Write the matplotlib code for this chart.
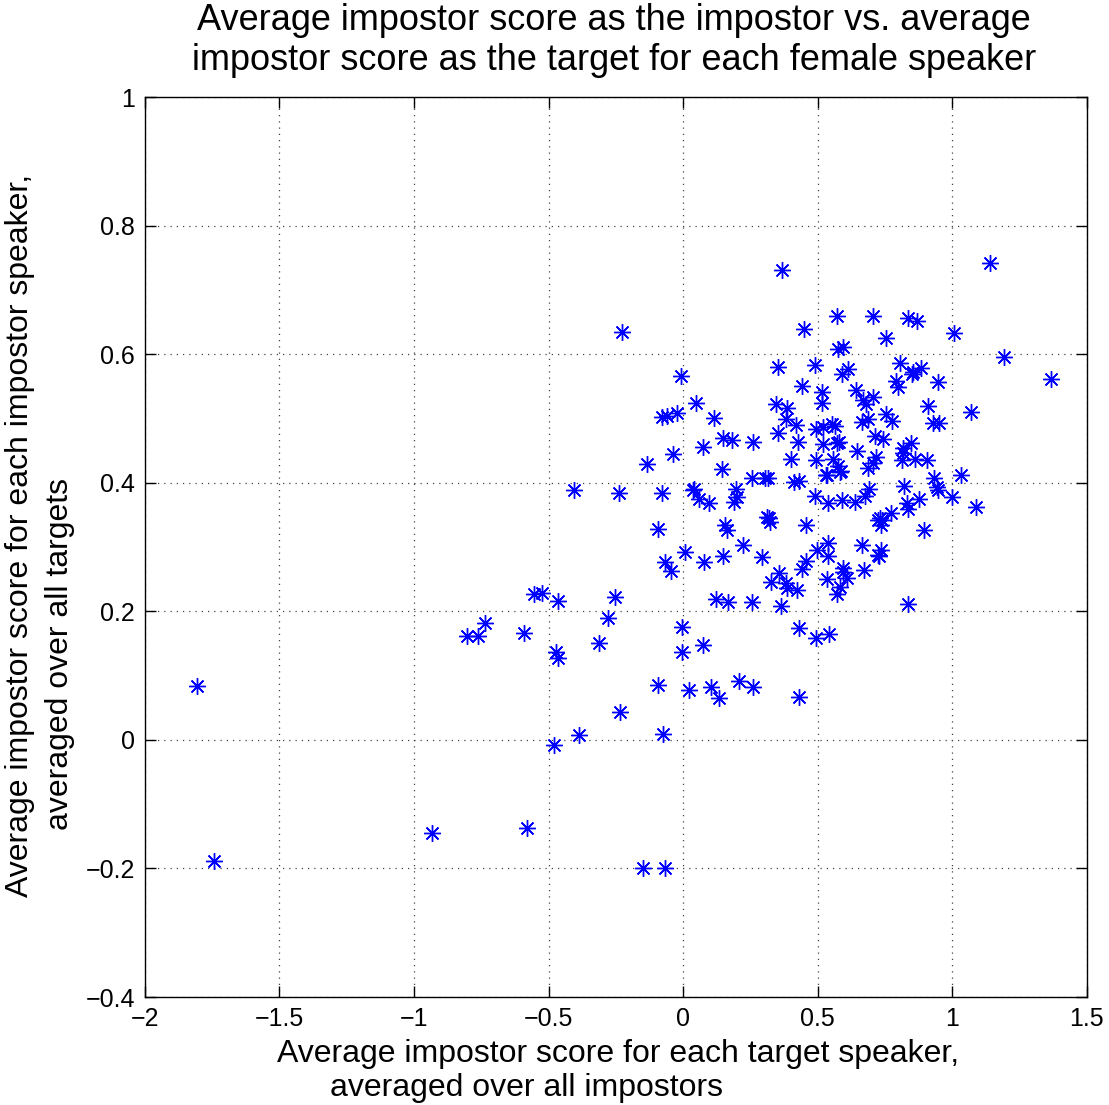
import matplotlib
matplotlib.use("Agg")
import matplotlib.pyplot as plt

plt.rcParams['font.family'] = ['Liberation Sans', 'DejaVu Sans']

title = "Average impostor score as the impostor vs. average\nimpostor score as the target for each female speaker"
xlabel_lines = ["Average impostor score for each target speaker,", "averaged over all impostors"]
ylabel_lines = ["Average impostor score for each impostor speaker,", "averaged over all targets"]

xticks = [-2, -1.5, -1, -0.5, 0, 0.5, 1, 1.5]
yticks = [-0.4, -0.2, 0, 0.2, 0.4, 0.6, 0.8, 1]

x_vals = [
    -1.807, -1.743, -0.933, -0.580, -0.227, -0.149, -0.067,
    -0.007, 0.048, -0.078, -0.059, -0.022, -0.037, -0.134, -0.405, -0.238, -0.078, 0.037,
    -0.093, 0.007, -0.067, -0.045, -0.554, -0.524, -0.465, -0.253,
    -0.736, -0.803, -0.762, -0.591, -0.279, -0.312, -0.472, -0.465, -0.004, -0.004, 0.074,
    -0.093, 0.022, -0.234, -0.387, -0.074, -0.480,
    0.041, 0.059, 0.097, 0.197, 0.201, 0.190, 0.257, 0.305, 0.316, 0.413, 0.431, 0.491,
    0.535, 0.584, 0.539, 0.591, 0.639, 0.677, 0.691, 0.725, 0.312, 0.323, 0.320, 0.156,
    0.164, 0.457, 0.078, 0.149, 0.223, 0.294, 0.498, 0.539, 0.539, 0.665, 0.725, 0.457,
    0.442, 0.357, 0.327, 0.383, 0.387, 0.424, 0.595, 0.595, 0.610, 0.535, 0.584, 0.572,
    0.673, 0.123, 0.167, 0.257, 0.364, 0.431, 0.494, 0.543, 0.104, 0.134, 0.208, 0.260, 0.431,
    0.368, 0.572, 0.706, 0.450, 0.576, 0.595, 0.353, 0.491, 0.591, 0.613, 0.442, 0.517,
    0.517, 0.346, 0.387, 0.383, 0.420, 0.115, 0.643, 0.669, 0.680, 0.706, 0.665, 0.688,
    0.494, 0.520, 0.554, 0.565, 0.714, 0.353, 0.428, 0.520, 0.572, 0.580, 0.149, 0.182,
    0.260, 0.074, 0.647, 0.717, 0.706, 0.401, 0.494, 0.558, 0.576, 0.587, 0.688, 0.145, 0.532,
    1.141, 0.836, 0.870, 1.007, 0.755, 1.193, 1.368, 0.807, 0.851, 0.855, 0.885, 0.792,
    0.799, 0.948, 0.911, 1.071, 0.755, 0.777, 0.929, 0.952, 0.743, 0.848, 0.818, 0.818,
    0.814, 0.862, 0.907, 0.933, 1.033, 0.822, 0.944,
    0.948, 0.833, 0.836, 0.877, 1.000, 1.089, 0.773, 0.732, 0.740, 0.736, 0.896, 0.736,
    0.729, 0.836,
]
y_vals = [
    0.084, -0.188, -0.145, -0.137, 0.635, -0.199, -0.199,
    0.566, 0.524, 0.502, 0.504, 0.509, 0.445, 0.429, 0.389, 0.384, 0.384, 0.389,
    0.328, 0.292, 0.277, 0.263, 0.227, 0.229, 0.216, 0.222,
    0.182, 0.162, 0.162, 0.166, 0.190, 0.151, 0.137, 0.128, 0.176, 0.137, 0.148,
    0.086, 0.078, 0.044, 0.008, 0.009, -0.008,
    0.390, 0.375, 0.369, 0.390, 0.378, 0.370, 0.407, 0.407, 0.407, 0.401, 0.403, 0.380,
    0.412, 0.417, 0.369, 0.373, 0.370, 0.380, 0.390, 0.342, 0.347, 0.339, 0.345, 0.334,
    0.327, 0.334, 0.277, 0.286, 0.303, 0.285, 0.296, 0.306, 0.286, 0.303, 0.288, 0.278,
    0.266, 0.260, 0.246, 0.244, 0.236, 0.233, 0.268, 0.261, 0.252, 0.250, 0.238, 0.227,
    0.264, 0.219, 0.215, 0.215, 0.208, 0.174, 0.159, 0.165, 0.082, 0.065, 0.092, 0.082, 0.067,
    0.731, 0.660, 0.660, 0.639, 0.608, 0.611, 0.580, 0.583, 0.569, 0.577, 0.551, 0.541,
    0.524, 0.523, 0.516, 0.499, 0.490, 0.501, 0.544, 0.529, 0.523, 0.534, 0.495, 0.499,
    0.484, 0.487, 0.492, 0.488, 0.473, 0.478, 0.464, 0.460, 0.462, 0.464, 0.470, 0.467,
    0.464, 0.456, 0.450, 0.440, 0.431, 0.437, 0.436, 0.437, 0.426, 0.418, 0.423, 0.421, 0.412,
    0.742, 0.656, 0.652, 0.633, 0.625, 0.596, 0.562, 0.586, 0.569, 0.572, 0.579, 0.558,
    0.549, 0.557, 0.520, 0.510, 0.507, 0.496, 0.493, 0.493, 0.468, 0.462, 0.454, 0.446,
    0.435, 0.437, 0.436, 0.408, 0.412, 0.395, 0.393,
    0.389, 0.369, 0.359, 0.375, 0.378, 0.362, 0.353, 0.345, 0.342, 0.334, 0.327, 0.296,
    0.286, 0.212,
]

fig = plt.figure(figsize=(11.09, 11.05), dpi=100)
ax = fig.add_axes([0.1307, 0.0977, 0.8493, 0.8145])

ax.plot(x_vals, y_vals, linestyle='none', marker=(8, 2, 0), markersize=12,
        markeredgewidth=1.0, color=(0, 0, 1))

ax.set_xlim(-2, 1.5)
ax.set_ylim(-0.4, 1)
ax.set_xticks(xticks)
ax.set_yticks(yticks)
ax.set_xticklabels([f"{t:g}".replace('-', '\u2212') for t in xticks])
ax.set_yticklabels([f"{t:g}".replace('-', '\u2212') for t in yticks])
ax.tick_params(direction='in', length=8, width=1, labelsize=18, top=True, right=True, pad=7)
ax.grid(True, linestyle=(0, (1, 4)), color='#444444', linewidth=0.9)
for s in ax.spines.values():
    s.set_linewidth(1.0)
    s.set_color('black')

fig.text(614 / 1109, 1 - 20 / 1105, title.split("\n")[0], ha='center', va='center', fontsize=26)
fig.text(614 / 1109, 1 - 60 / 1105, title.split("\n")[1], ha='center', va='center', fontsize=26)

fig.text(618 / 1109, 1 - 1054 / 1105, xlabel_lines[0], ha='center', va='center', fontsize=23)
fig.text(330 / 1109, 1 - 1088 / 1105, xlabel_lines[1], ha='left', va='center', fontsize=23)
fig.text(20 / 1109, 1 - 535 / 1105, ylabel_lines[0], ha='center', va='center', rotation=90, fontsize=23)
fig.text(60 / 1109, 1 - 830 / 1105, ylabel_lines[1], ha='center', va='bottom', rotation=90, fontsize=23)

fig.savefig("out.png", dpi=100)
